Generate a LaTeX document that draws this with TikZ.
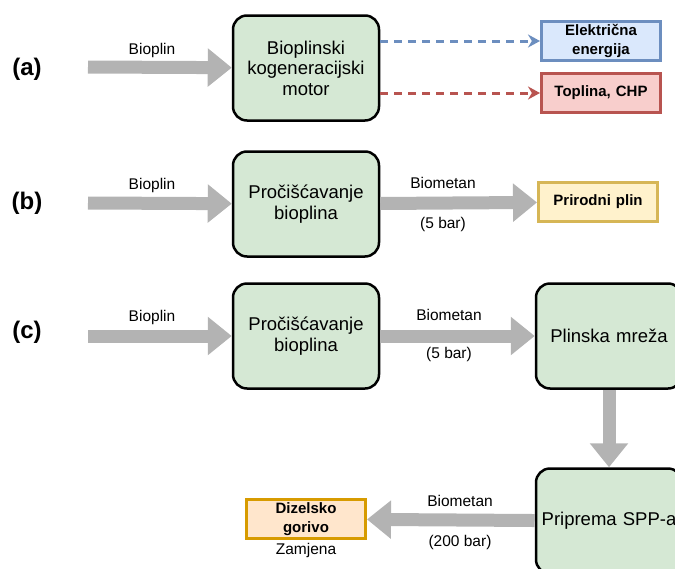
\documentclass[tikz,border=0pt]{standalone}
\usepackage{fontspec}
\setmainfont{Liberation Sans}
\usepackage{tikz}
\usetikzlibrary{positioning, arrows.meta}
\usepackage{xcolor}
\definecolor{boxgreen}{HTML}{D5E8D4}
\definecolor{elecfill}{HTML}{DAE8FC}
\definecolor{elecdraw}{HTML}{6C8EBF}
\definecolor{heatfill}{HTML}{F8CECC}
\definecolor{heatdraw}{HTML}{B85450}
\definecolor{gasfill}{HTML}{FFF2CC}
\definecolor{gasdraw}{HTML}{D6B656}
\definecolor{dieselfill}{HTML}{FFE6CC}
\definecolor{dieseldraw}{HTML}{D79B00}
\definecolor{flowgray}{HTML}{B3B3B3}
\tikzstyle{process} = [rectangle, rounded corners=14pt,
minimum width=146pt,
minimum height=105pt,
text width=139pt,
align=center,
draw=black,
line width=2.5pt,
fill=boxgreen,
font=\fontsize{18.5}{20.5}\selectfont]
\tikzstyle{product} = [rectangle,
minimum width=119pt,
minimum height=39pt,
text width=112pt,
align=center,
line width=3pt,
font=\bfseries\fontsize{15}{18.5}\selectfont]
\tikzstyle{flow} = [line width=13pt, draw=flowgray, -{Triangle[width=37pt,length=24pt]}]
\tikzstyle{output} = [line width=3pt, dash pattern=on 8pt off 6pt, -{Stealth[length=12pt,width=13pt]}]
\tikzstyle{lbl} = [font=\fontsize{15.5}{18}\selectfont]
\tikzstyle{case} = [font=\bfseries\fontsize{24}{28}\selectfont]

\begin{document}
\begin{tikzpicture}[x=1pt, y=-1pt]
        \useasboundingbox (0,0) rectangle (675,568);
        \clip (0,0) rectangle (675,568);

        % (a)
        \node (casea) [case] at (27,69) {(a)};
        \coordinate (ina) at (88,67);
        \node (moto) [process] at (306,68) {Bioplinski\\kogeneracijski\\motor};
        \node (elec) [product, fill=elecfill, draw=elecdraw] at (601,41) {Električna\\energija};
        \node (heat) [product, fill=heatfill, draw=heatdraw] at (601,93) {Toplina, CHP};
        \node (bpa) [lbl] at (152,50) {Bioplin};

        \draw [flow] (ina) -- (moto);
        \draw [output, draw=elecdraw] (moto.east |- elec.west) -- (elec.west);
        \draw [output, draw=heatdraw] (moto.east |- heat.west) -- (heat.west);

        % (b)
        \node (caseb) [case] at (27,203) {(b)};
        \coordinate (inb) at (88,203);
        \node (cleanb) [process] at (306,204) {Pročišćavanje\\bioplina};
        \node (gas) [product, fill=gasfill, draw=gasdraw] at (598,202) {Prirodni plin};
        \node (bpb) [lbl] at (152,185) {Bioplin};
        \node (bmb) [lbl] at (443,183) {Biometan};
        \node (barb) [lbl] at (443,224) {(5 bar)};

        \draw [flow] (inb) -- (cleanb);
        \draw [flow] (cleanb) -- (gas);

        % (c)
        \node (casec) [case] at (27,332) {(c)};
        \coordinate (inc) at (88,336);
        \node (cleanc) [process] at (306,336) {Pročišćavanje\\bioplina};
        \node (grid) [process] at (609,336) {Plinska mreža};
        \node (cng) [process] at (609,521) {Priprema SPP-a};
        \node (diesel) [product, fill=dieselfill, draw=dieseldraw] at (306,519) {Dizelsko\\gorivo};
        \node (bpc) [lbl] at (152,317) {Bioplin};
        \node (bmc) [lbl] at (449,315) {Biometan};
        \node (barc) [lbl] at (449,354) {(5 bar)};
        \node (bmd) [lbl] at (460,501) {Biometan};
        \node (bard) [lbl] at (460,542) {(200 bar)};
        \node (swap) [lbl, below=0pt of diesel] {Zamjena};

        \draw [flow] (inc) -- (cleanc);
        \draw [flow] (cleanc) -- (grid);
        \draw [flow] (grid) -- (cng);
        \draw [flow] (cng) -- (diesel);
    \end{tikzpicture}
\end{document}
